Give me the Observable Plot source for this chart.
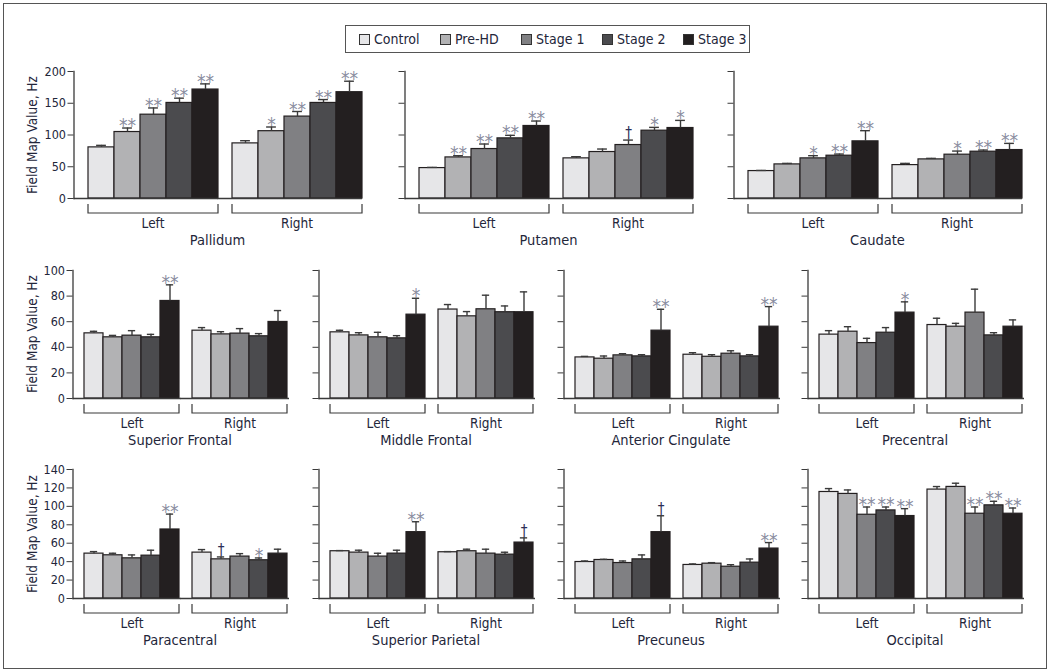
<!DOCTYPE html>
<html><head><meta charset="utf-8">
<script src="https://cdn.jsdelivr.net/npm/d3@7"></script>
<script src="https://cdn.jsdelivr.net/npm/@observablehq/plot@0.6"></script>
<style>
body{margin:0;background:#fff;}
#chart{position:relative;width:1050px;height:671px;overflow:hidden;font-family:"DejaVu Sans Condensed","Liberation Sans Narrow",sans-serif;color:#23263a;background:#fff;}
#frame{position:absolute;left:3px;top:3px;width:1044px;height:666px;border:1.5px solid #555;box-sizing:border-box;}
.panel{position:absolute;}
.name{position:absolute;font-size:14.5px;transform:translate(-50%,-50%);white-space:nowrap;}
.ylab{position:absolute;font-size:13.5px;transform:translate(-50%,-50%) rotate(-90deg);white-space:nowrap;}
#legend{position:absolute;left:345px;top:25px;width:405px;height:28px;border:1.5px solid #555;box-sizing:border-box;}
#legend .item{position:absolute;top:0;height:100%;display:flex;align-items:center;font-size:14px;white-space:nowrap;}
#legend .sw{width:11px;height:11px;border:1px solid #333;margin-right:4px;box-sizing:border-box;display:inline-block;}
</style></head>
<body><div id="chart"><div id="frame"></div><div id="legend"></div></div>
<script>
const groups = ["Control", "Pre-HD", "Stage 1", "Stage 2", "Stage 3"];
const sides = ["Left", "Right"];
const groupColors = ["#e6e6e8", "#b2b2b4", "#808083", "#4b4b4e", "#231f20"];

const ticksRow1 = [0, 50, 100, 150, 200];
const ticksRow2 = [0, 20, 40, 60, 80, 100];
const ticksRow3 = [0, 20, 40, 60, 80, 100, 120, 140];
const yLabel = "Field Map Value, Hz";

// values: Left (Control..Stage 3) then Right (Control..Stage 3)
const pallidumMean = [80.5, 104.7, 132, 150.5, 171.6, 86.8, 106, 129, 150.5, 167.4];
const pallidumErr  = [3.2, 6.3, 10.6, 7.5, 8.9, 4.2, 6.6, 8, 5.3, 17.3];
const pallidumSig  = ["", "**", "**", "**", "**", "", "*", "**", "**", "**"];

const putamenMean = [47.9, 64.7, 77.9, 94.7, 114.2, 63.2, 73.2, 84.2, 106.8, 111];
const putamenErr  = [1.1, 2.7, 7.9, 4.8, 7.8, 2.6, 4.7, 7.8, 5.2, 12];
const putamenSig  = ["", "**", "**", "**", "**", "", "", "†", "*", "*"];

const caudateMean = [43.2, 53.7, 63.2, 67.4, 90, 52.6, 61.6, 69, 73.7, 76.3];
const caudateErr  = [1, 1.6, 4.2, 2.6, 16.8, 2.7, 1.6, 5.7, 2.6, 10.5];
const caudateSig  = ["", "", "*", "**", "**", "", "", "*", "**", "**"];

const supFrontalMean = [50.9, 47.8, 49.1, 47.8, 76.2, 53, 50.1, 50.7, 48.6, 59.8];
const supFrontalErr  = [1.6, 1.5, 3.9, 2.3, 12.6, 2.4, 2.1, 3.9, 2.1, 8.9];
const supFrontalSig  = ["", "", "", "", "**", "", "", "", "", ""];

const midFrontalMean = [51.7, 49.3, 47.8, 47, 65.5, 69.5, 64.2, 69.7, 67.4, 67.4];
const midFrontalErr  = [1.6, 2.1, 3.9, 2.1, 12.8, 3.9, 3.7, 11, 4.9, 15.9];
const midFrontalSig  = ["", "", "", "", "*", "", "", "", "", ""];

const antCingMean = [32.1, 31.1, 33.7, 32.9, 53, 34.2, 32.6, 35, 32.9, 56.1];
const antCingErr  = [0.8, 2.1, 1.3, 1.3, 16.7, 1.6, 1.6, 2.3, 1.3, 15.7];
const antCingSig  = ["", "", "", "", "**", "", "", "", "", "**"];

const precentralMean = [49.9, 52.2, 43.3, 51.4, 67.1, 57.4, 56.1, 67.1, 49.3, 56.1];
const precentralErr  = [3.1, 3.9, 3.7, 4, 8.4, 5.3, 2.6, 18.3, 2.1, 5.3];
const precentralSig  = ["", "", "", "", "*", "", "", "", "", ""];

const paracentralMean = [48.7, 46.9, 43.6, 46.5, 74.9, 49.8, 42.5, 45.5, 41.5, 48.7];
const paracentralErr  = [2.2, 2.2, 3.7, 5.9, 16.7, 3.3, 2.6, 3.2, 2.5, 4.8];
const paracentralSig  = ["", "", "", "", "**", "", "†", "", "*", ""];

const supParietalMean = [51.3, 49.8, 45.5, 48.7, 72, 50.2, 51.3, 48.7, 47.6, 60.7];
const supParietalErr  = [0.7, 2.6, 3.6, 3.7, 11.3, 0.7, 2.2, 4.8, 2.6, 5.1];
const supParietalSig  = ["", "", "", "", "**", "", "", "", "", "†"];

const precuneusMean = [39.6, 41.8, 38.5, 42.5, 72, 36.4, 37.8, 34.5, 38.9, 54.2];
const precuneusErr  = [1.1, 0.7, 2.2, 4.8, 17.8, 1.1, 1.1, 2.2, 4, 6.5];
const precuneusSig  = ["", "", "", "", "†", "", "", "", "", "**"];

const occipitalMean = [115.6, 113.5, 90.9, 95.6, 89.5, 118.2, 121.1, 92, 101.1, 92];
const occipitalErr  = [3.7, 4.3, 8.4, 3.7, 8, 3.3, 4, 7.3, 4.4, 6.2];
const occipitalSig  = ["", "", "**", "**", "**", "", "", "**", "**", "**"];

const FONT = '"DejaVu Sans Condensed","Liberation Sans Narrow",sans-serif';
const INK = "#23263a";
const LINE = "#3a3a3a";
const chart = document.getElementById("chart");

function panel(cfg) {
  const {name, mean, err, sig, axisX, top, baseline, frameW, ticks, gap, capW, showY} = cfg;
  const ML = 60, MR = 4, MT = 10, MB = 50;
  const innerH = baseline - top;
  const rows = [];
  sides.forEach((s, si) => groups.forEach((g, gi) => {
    const k = si * 5 + gi;
    rows.push({side: s, group: g, mean: mean[k], err: err[k], top: mean[k] + err[k], sig: sig[k]});
  }));
  const step = frameW / 2;
  const pi = gap / step, po = pi / 2;
  const bw = (step - gap) / 5;
  const inset = (bw - capW) / 2;
  const bracket = (index, scales, values, dims) => {
    const x = scales.x;
    const b = x.bandwidth ? x.bandwidth() : 0;
    const x0 = x(groups[0]), x1 = x(groups[4]) + b;
    const yb = scales.y(0);
    return d3.create("svg:path")
      .attr("d", `M${x0},${yb + 6}V${yb + 15}H${x1}V${yb + 6}`)
      .attr("fill", "none").attr("stroke", LINE).attr("stroke-width", 1.2).node();
  };
  const svg = Plot.plot({
    width: ML + frameW + MR, height: MT + innerH + MB,
    marginLeft: ML, marginRight: MR, marginTop: MT, marginBottom: MB,
    style: {fontFamily: FONT, fontSize: "12.5px", color: INK, background: "transparent", overflow: "visible"},
    x: {domain: groups, padding: 0, axis: null},
    fx: {domain: sides, paddingInner: pi, paddingOuter: po, align: 1},
    y: {domain: [0, ticks[ticks.length - 1]]},
    color: {domain: groups, range: groupColors},
    marks: [
      Plot.barY(rows, {fx: "side", x: "group", y: "mean", fill: "group", stroke: "#231f20", strokeWidth: 1.2}),
      Plot.ruleX(rows, {fx: "side", x: "group", y1: "mean", y2: "top", stroke: LINE, strokeWidth: 1.4}),
      Plot.tickY(rows, {fx: "side", x: "group", y: "top", insetLeft: inset, insetRight: inset, stroke: LINE, strokeWidth: 1.4}),
      Plot.text(rows.filter(d => d.sig.startsWith("*")), {fx: "side", x: "group", y: "top", text: "sig", lineAnchor: "bottom", dy: 4, fontSize: 19, fill: "#8a8da0"}),
      Plot.text(rows.filter(d => d.sig === "†"), {fx: "side", x: "group", y: "top", text: "sig", lineAnchor: "bottom", dy: -2, fontSize: 15, fill: "#2c2f57"}),
      Plot.ruleY([0], {insetLeft: -gap, stroke: LINE, strokeWidth: 1.3}),
      Plot.axisY({ticks, tickSize: 6, tickPadding: 2, dx: -gap, label: null, stroke: LINE,
                  tickFormat: showY ? (d => String(d)) : (() => ""), fontSize: 12.5}),
      Plot.frame({anchor: "left", facetAnchor: "left", dx: -gap, stroke: LINE, strokeWidth: 1.3}),
      Plot.axisFx({anchor: "bottom", tickSize: 0, tickPadding: 20, label: null, fontSize: 13.5}),
      bracket
    ]
  });
  svg.classList.add("panel");
  svg.style.left = (axisX - ML) + "px";
  svg.style.top = (top - MT) + "px";
  chart.appendChild(svg);
  const nm = document.createElement("div");
  nm.className = "name";
  nm.textContent = name;
  nm.style.left = (axisX + frameW / 2) + "px";
  nm.style.top = (baseline + 42) + "px";
  chart.appendChild(nm);
  if (showY) {
    const yl = document.createElement("div");
    yl.className = "ylab";
    yl.textContent = yLabel;
    yl.style.left = "32px";
    yl.style.top = ((top + baseline) / 2) + "px";
    chart.appendChild(yl);
  }
}

const r1 = {top: 71, baseline: 198, frameW: 289, gap: 13.5, capW: 10, ticks: ticksRow1};
panel({...r1, name: "Pallidum", mean: pallidumMean, err: pallidumErr, sig: pallidumSig, axisX: 73, showY: true});
panel({...r1, name: "Putamen", mean: putamenMean, err: putamenErr, sig: putamenSig, axisX: 404});
panel({...r1, name: "Caudate", mean: caudateMean, err: caudateErr, sig: caudateSig, axisX: 733});

const r2 = {top: 270, baseline: 398, frameW: 216, gap: 9.5, capW: 8, ticks: ticksRow2};
panel({...r2, name: "Superior Frontal", mean: supFrontalMean, err: supFrontalErr, sig: supFrontalSig, axisX: 72, showY: true});
panel({...r2, name: "Middle Frontal", mean: midFrontalMean, err: midFrontalErr, sig: midFrontalSig, axisX: 318});
panel({...r2, name: "Anterior Cingulate", mean: antCingMean, err: antCingErr, sig: antCingSig, axisX: 563});
panel({...r2, name: "Precentral", mean: precentralMean, err: precentralErr, sig: precentralSig, axisX: 807});

const r3 = {top: 469, baseline: 598, frameW: 216, gap: 9.5, capW: 8, ticks: ticksRow3};
panel({...r3, name: "Paracentral", mean: paracentralMean, err: paracentralErr, sig: paracentralSig, axisX: 72, showY: true});
panel({...r3, name: "Superior Parietal", mean: supParietalMean, err: supParietalErr, sig: supParietalSig, axisX: 318});
panel({...r3, name: "Precuneus", mean: precuneusMean, err: precuneusErr, sig: precuneusSig, axisX: 563});
panel({...r3, name: "Occipital", mean: occipitalMean, err: occipitalErr, sig: occipitalSig, axisX: 807});

const legend = document.getElementById("legend");
groups.forEach((g, i) => {
  const item = document.createElement("div");
  item.className = "item";
  item.style.left = (13 + i * 81) + "px";
  const sw = document.createElement("span");
  sw.className = "sw";
  sw.style.background = groupColors[i];
  item.appendChild(sw);
  item.appendChild(document.createTextNode(g));
  legend.appendChild(item);
});
</script>
</body></html>
